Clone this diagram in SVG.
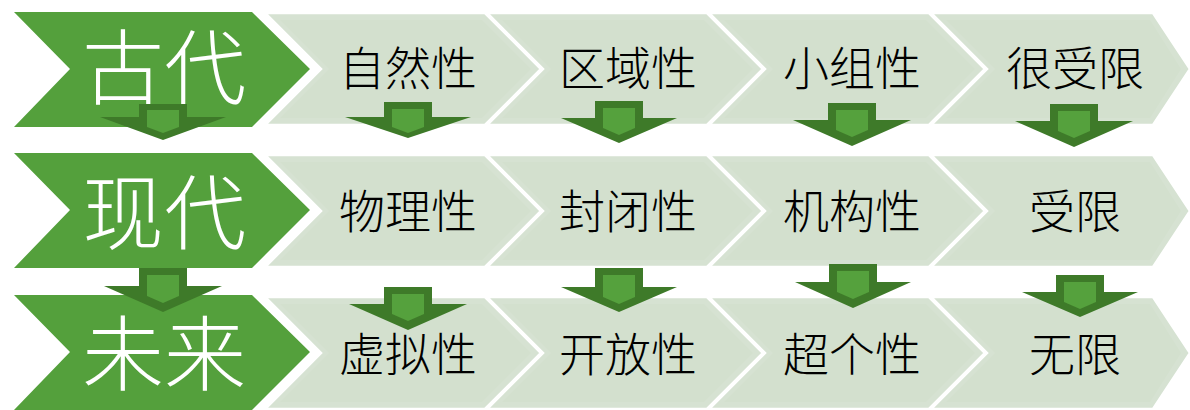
<svg xmlns="http://www.w3.org/2000/svg" width="1190" height="410" viewBox="0 0 1190 410">
<style>
.main{fill:#54a03c}
.lt{fill:#d6e2d2;stroke:#ffffff;stroke-width:2.5}
.ltin{fill:#d3e0ce}
.arr{fill:#3e7a29}
.arrin{fill:#55a13d}
.mt{font-family:"Noto Sans CJK SC",sans-serif;font-weight:300;font-size:82px;fill:#ffffff;text-anchor:middle;dominant-baseline:central}
.ct{font-family:"Noto Sans CJK SC",sans-serif;font-weight:300;font-size:46px;fill:#000000;text-anchor:middle;dominant-baseline:central}
</style>
<rect width="1190" height="410" fill="#ffffff"/>

<!-- Row 1 -->
<g id="row1-main"><polygon class="main" points="14,12 252,12 310,69 252,127 14,127 70,69"/><text class="mt" x="164" y="62">古代</text></g>
<g id="row1-c1"><polygon class="lt" points="265,13 485,13 541,69 485,125 265,125 321,69"/><polygon class="ltin" points="280,20 482,20 531,69 482,118 280,118 329,69"/><text class="ct" x="408" y="65">自然性</text></g>
<g id="row1-c2"><polygon class="lt" points="487,13 707,13 763,69 707,125 487,125 543,69"/><polygon class="ltin" points="502,20 704,20 753,69 704,118 502,118 551,69"/><text class="ct" x="628" y="65">区域性</text></g>
<g id="row1-c3"><polygon class="lt" points="709,13 929,13 985,69 929,125 709,125 765,69"/><polygon class="ltin" points="724,20 926,20 975,69 926,118 724,118 773,69"/><text class="ct" x="852" y="65">小组性</text></g>
<g id="row1-c4"><polygon class="lt" points="931,13 1153,13 1190,69 1153,125 931,125 987,69"/><polygon class="ltin" points="946,20 1150,20 1181,69 1150,118 946,118 995,69"/><text class="ct" x="1075" y="65">很受限</text></g>

<!-- Row 2 -->
<g id="row2-main"><polygon class="main" points="14,153 252,153 310,210 252,268 14,268 70,210"/><text class="mt" x="164" y="207">现代</text></g>
<g id="row2-c1"><polygon class="lt" points="265,155 485,155 541,211 485,267 265,267 321,211"/><polygon class="ltin" points="280,162 482,162 531,211 482,260 280,260 329,211"/><text class="ct" x="408" y="208">物理性</text></g>
<g id="row2-c2"><polygon class="lt" points="487,155 707,155 763,211 707,267 487,267 543,211"/><polygon class="ltin" points="502,162 704,162 753,211 704,260 502,260 551,211"/><text class="ct" x="628" y="208">封闭性</text></g>
<g id="row2-c3"><polygon class="lt" points="709,155 929,155 985,211 929,267 709,267 765,211"/><polygon class="ltin" points="724,162 926,162 975,211 926,260 724,260 773,211"/><text class="ct" x="852" y="208">机构性</text></g>
<g id="row2-c4"><polygon class="lt" points="931,155 1153,155 1190,211 1153,267 931,267 987,211"/><polygon class="ltin" points="946,162 1150,162 1181,211 1150,260 946,260 995,211"/><text class="ct" x="1075" y="208">受限</text></g>

<!-- Row 3 -->
<g id="row3-main"><polygon class="main" points="14,295 252,295 310,352 252,410 14,410 70,352"/><text class="mt" x="164" y="348">未来</text></g>
<g id="row3-c1"><polygon class="lt" points="265,297 485,297 541,353 485,409 265,409 321,353"/><polygon class="ltin" points="280,304 482,304 531,353 482,402 280,402 329,353"/><text class="ct" x="408" y="351">虚拟性</text></g>
<g id="row3-c2"><polygon class="lt" points="487,297 707,297 763,353 707,409 487,409 543,353"/><polygon class="ltin" points="502,304 704,304 753,353 704,402 502,402 551,353"/><text class="ct" x="628" y="351">开放性</text></g>
<g id="row3-c3"><polygon class="lt" points="709,297 929,297 985,353 929,409 709,409 765,353"/><polygon class="ltin" points="724,304 926,304 975,353 926,402 724,402 773,353"/><text class="ct" x="852" y="351">超个性</text></g>
<g id="row3-c4"><polygon class="lt" points="931,297 1153,297 1190,353 1153,409 931,409 987,353"/><polygon class="ltin" points="946,304 1150,304 1181,353 1150,402 946,402 995,353"/><text class="ct" x="1075" y="351">无限</text></g>

<!-- Connectors (down arrows) -->
<g id="connectors">
  <g transform="translate(163,104)"><polygon class="arr" points="-24,0 24,0 24,13 63,13 0,36 -63,13 -24,13"/><polygon class="arrin" points="-16,6 16,6 16,23 0,29 -16,23"/></g>
  <g transform="translate(408,102)"><polygon class="arr" points="-24,0 24,0 24,15 63,15 0,36 -63,15 -24,15"/><polygon class="arrin" points="-16,7 16,7 16,25 0,31 -16,25"/></g>
  <g transform="translate(619,101)"><polygon class="arr" points="-24,0 24,0 24,17 58,17 0,42 -58,17 -24,17"/><polygon class="arrin" points="-16,7 16,7 16,27 0,34 -16,27"/></g>
  <g transform="translate(852,103)"><polygon class="arr" points="-24,0 24,0 24,17 59,17 0,43 -59,17 -24,17"/><polygon class="arrin" points="-16,7 16,7 16,27 0,34 -16,27"/></g>
  <g transform="translate(1074,104)"><polygon class="arr" points="-24,0 24,0 24,17 59,17 0,43 -59,17 -24,17"/><polygon class="arrin" points="-16,7 16,7 16,27 0,34 -16,27"/></g>

  <g transform="translate(163,268)"><polygon class="arr" points="-24,0 24,0 24,18 59,18 0,44 -59,18 -24,18"/><polygon class="arrin" points="-16,7 16,7 16,28 0,35 -16,28"/></g>
  <g transform="translate(408,287)"><polygon class="arr" points="-24,0 24,0 24,17 59,17 0,43 -59,17 -24,17"/><polygon class="arrin" points="-16,7 16,7 16,27 0,34 -16,27"/></g>
  <g transform="translate(619,268)"><polygon class="arr" points="-24,0 24,0 24,19 58,19 0,44 -58,19 -24,19"/><polygon class="arrin" points="-16,7 16,7 16,29 0,36 -16,29"/></g>
  <g transform="translate(853,264)"><polygon class="arr" points="-24,0 24,0 24,18 58,18 0,44 -58,18 -24,18"/><polygon class="arrin" points="-16,7 16,7 16,28 0,35 -16,28"/></g>
  <g transform="translate(1080,275)"><polygon class="arr" points="-24,0 24,0 24,17 58,17 0,42 -58,17 -24,17"/><polygon class="arrin" points="-16,7 16,7 16,27 0,34 -16,27"/></g>
</g>
</svg>
